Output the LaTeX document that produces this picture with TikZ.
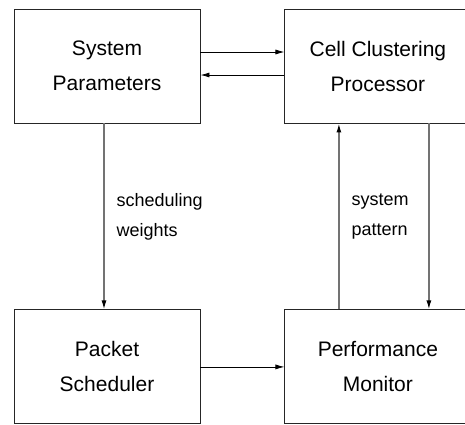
\documentclass[tikz,border=0pt]{standalone}
\usepackage{fontspec}
\setmainfont{Liberation Sans}
\usetikzlibrary{arrows.meta, positioning}

\begin{document}
\begin{tikzpicture}[
    x=1pt, y=-1pt,
    node distance=84pt,
    block/.style={
        rectangle,
        draw=black!85,
        line width=0.9pt,
        minimum width=186pt,
        minimum height=114pt,
        align=center,
        font=\fontsize{21}{35}\selectfont
    },
    flow/.style={
        -{Latex[length=9pt,width=5pt]},
        line width=0.8pt
    },
    feed/.style={
        -{Latex[length=9pt,width=5pt,fill=black,color=black]},
        line width=1.4pt,
        draw=black!55
    },
    tag/.style={
        font=\fontsize{18}{30}\selectfont,
        align=left,
        anchor=west,
        inner sep=0pt
    }
]
\useasboundingbox (0,0) rectangle (465,424);

% Top row
\node[block] (params) at (107,66) {System\\Parameters};
\node[block, right=of params] (cluster) {Cell Clustering\\Processor};

% Bottom row
\node[block, below=186pt of params] (sched) {Packet\\Scheduler};
\node[block, right=of sched] (monitor) {Performance\\Monitor};

% Arrows between top boxes
\draw[flow] ([yshift=14pt]params.east) -- ([yshift=14pt]cluster.west);
\draw[flow] ([yshift=-9pt]cluster.west) -- ([yshift=-9pt]params.east);

% Scheduler to monitor
\draw[flow] (sched.east) -- (monitor.west);

% Vertical links
\draw[feed] ([xshift=-3pt]params.south) -- node[tag, xshift=12pt] {scheduling\\weights} ([xshift=-3pt]sched.north);
\draw[feed] ([xshift=-39pt]monitor.north) -- node[tag, xshift=12pt] {system\\pattern} ([xshift=-39pt]cluster.south);
\draw[feed] ([xshift=51pt]cluster.south) -- ([xshift=51pt]monitor.north);

\end{tikzpicture}
\end{document}
